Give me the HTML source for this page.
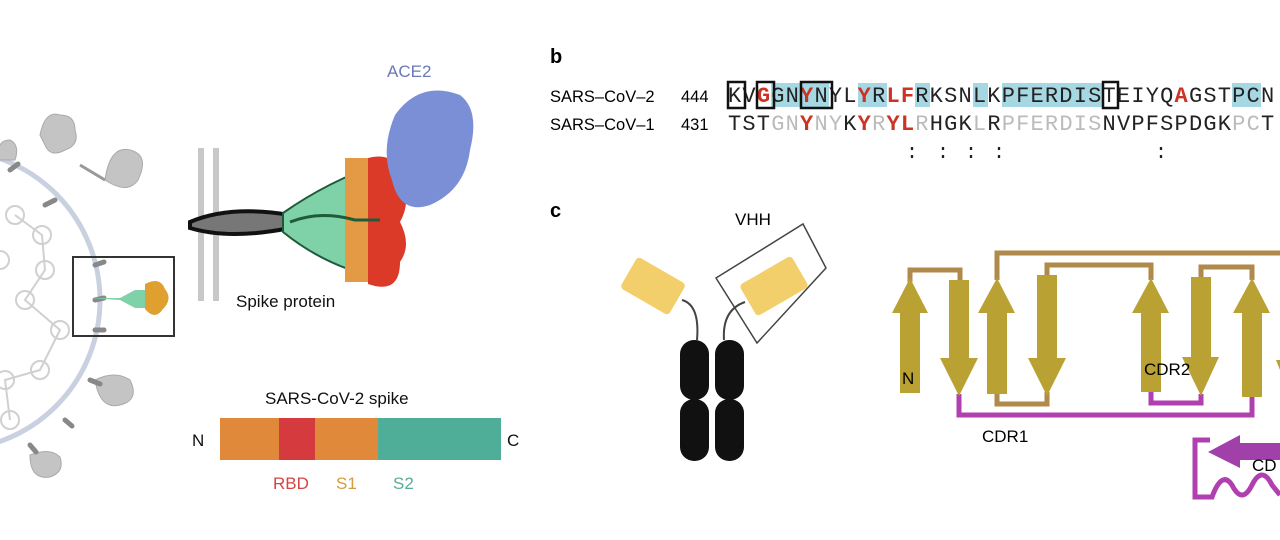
<!DOCTYPE html>
<html><head><meta charset="utf-8"><style>
html,body{margin:0;padding:0;background:#fff;}
svg{display:block;}
.s{font-family:"Liberation Sans",sans-serif;}
</style></head><body>
<svg width="1280" height="540" viewBox="0 0 1280 540" xmlns="http://www.w3.org/2000/svg">
<!-- virus -->
<circle cx="-50" cy="300" r="150" fill="none" stroke="#c9d0e0" stroke-width="5"/>
<g fill="none" stroke="#d0d0d0" stroke-width="2">
<circle cx="15" cy="215" r="9"/><circle cx="42" cy="235" r="9"/><circle cx="45" cy="270" r="9"/><circle cx="25" cy="300" r="9"/><circle cx="60" cy="330" r="9"/><circle cx="40" cy="370" r="9"/><circle cx="5" cy="380" r="9"/><circle cx="10" cy="420" r="9"/><circle cx="0" cy="260" r="9"/>
<path d="M15 215 L42 235 L45 270 L25 300 L60 330 L40 370 L5 380 L10 420"/>
</g>
<g fill="#c4c4c4" stroke="#aaa" stroke-width="1">
<path d="M40 135 q5 -25 20 -20 q15 0 15 15 q5 15 -10 20 q-15 8 -20 -5z"/>
<path d="M105 180 q5 -35 25 -30 q20 5 8 30 q-10 15 -33 0z"/>
<path d="M80 165 l25 15" stroke="#999" stroke-width="3"/>
<path d="M95 380 q5 30 25 25 q20 -5 10 -25 q-15 -10 -35 0z"/>
<path d="M30 455 q0 25 20 22 q15 -5 10 -20 q-10 -10 -30 -2z"/>
<path d="M0 160 q-5 -20 10 -20 q10 5 5 20z"/>
</g>
<g stroke="#888" stroke-width="5" stroke-linecap="round">
<line x1="10" y1="170" x2="18" y2="164"/><line x1="45" y1="205" x2="55" y2="200"/><line x1="95" y1="265" x2="104" y2="262"/><line x1="95" y1="300" x2="104" y2="298"/><line x1="95" y1="330" x2="104" y2="330"/><line x1="90" y1="380" x2="100" y2="384"/><line x1="65" y1="420" x2="72" y2="426"/><line x1="30" y1="445" x2="36" y2="452"/>
</g>
<rect x="73" y="257" width="101" height="79" fill="none" stroke="#333" stroke-width="2"/>
<path d="M90 298 L120 298 L135 290 L148 290 L148 308 L135 308 L120 300Z" fill="#7fd1a8"/>
<path d="M145 284 q15 -8 20 5 q8 10 -2 20 q-8 12 -18 0z" fill="#e0a030"/>
<!-- membrane -->
<rect x="198" y="148" width="6" height="153" fill="#c8c8c8"/><rect x="213" y="148" width="6" height="153" fill="#c8c8c8"/>
<!-- spike -->
<path d="M190 222 Q230 205 290 215 L290 228 Q230 240 190 228Z" fill="#777" stroke="#111" stroke-width="4"/>
<path d="M283 213 Q330 180 385 162 L390 280 Q330 270 283 232Z" fill="#7fd1a8" stroke="#1f5a3a" stroke-width="2"/>
<rect x="345" y="158" width="25" height="124" fill="#e49a45"/>
<path d="M368 158 Q400 150 400 185 Q412 200 400 222 Q412 245 400 262 Q400 295 368 284Z" fill="#dc3a28"/>
<path d="M290 222 Q320 210 355 220 L380 220" fill="none" stroke="#1f5a3a" stroke-width="3"/>
<!-- ACE2 -->
<path d="M395 115 Q420 80 460 95 Q480 110 470 150 Q465 190 430 205 Q400 215 392 180 Q380 150 395 115Z" fill="#7b8fd6"/>
<text x="387" y="77" class="s" font-size="17" fill="#6a7ab5">ACE2</text>
<text x="236" y="307" class="s" font-size="17" fill="#111">Spike protein</text>
<!-- spike bar -->
<text x="265" y="404" class="s" font-size="17" fill="#111">SARS-CoV-2 spike</text>
<text x="192" y="446" class="s" font-size="17" fill="#111">N</text>
<text x="507" y="446" class="s" font-size="17" fill="#111">C</text>
<rect x="220" y="418" width="60" height="42" fill="#e0893a"/>
<rect x="279" y="418" width="37" height="42" fill="#d53a3f"/>
<rect x="315" y="418" width="63" height="42" fill="#e0893a"/>
<rect x="378" y="418" width="123" height="42" fill="#4fae98"/>
<text x="273" y="489" class="s" font-size="17" fill="#d44444">RBD</text>
<text x="336" y="489" class="s" font-size="17" fill="#d89a40">S1</text>
<text x="393" y="489" class="s" font-size="17" fill="#5aaa99">S2</text>
<!-- b -->
<text x="550" y="63" class="s" font-size="20" font-weight="bold">b</text>
<text x="550" y="217" class="s" font-size="20" font-weight="bold">c</text>
<text x="550" y="102" class="s" font-size="16.5">SARS–CoV–2</text><text x="681" y="102" class="s" font-size="16.5">444</text>
<text x="550" y="130" class="s" font-size="16.5">SARS–CoV–1</text><text x="681" y="130" class="s" font-size="16.5">431</text>
<g fill="#a6d8e4">
<rect x="771" y="83" width="58" height="24"/><rect x="858" y="83" width="29" height="24"/><rect x="915" y="83" width="15" height="24"/><rect x="973" y="83" width="15" height="24"/><rect x="1002" y="83" width="101" height="24"/><rect x="1232" y="83" width="29" height="24"/>
</g>
<g font-family="Liberation Mono,monospace" font-size="22" fill="#222" letter-spacing="1.2">
<text x="728" y="102">KV<tspan fill="#cc3322" font-weight="bold">G</tspan>GN<tspan fill="#cc3322" font-weight="bold">Y</tspan>NYL<tspan fill="#cc3322" font-weight="bold">Y</tspan>R<tspan fill="#cc3322" font-weight="bold">LF</tspan>RKSNLKPFERDISTEIYQ<tspan fill="#cc3322" font-weight="bold">A</tspan>GSTPCN</text>
<text x="728" y="130">TST<tspan fill="#bbb">GN</tspan><tspan fill="#cc3322" font-weight="bold">Y</tspan><tspan fill="#bbb">NY</tspan>K<tspan fill="#cc3322" font-weight="bold">Y</tspan><tspan fill="#bbb">R</tspan><tspan fill="#cc3322" font-weight="bold">YL</tspan><tspan fill="#bbb">R</tspan>HGK<tspan fill="#bbb">L</tspan>R<tspan fill="#bbb">PFERDIS</tspan>NVPFSPDGK<tspan fill="#bbb">PC</tspan>T</text>
</g>
<g font-family="Liberation Mono,monospace" font-size="20" fill="#222">
<text y="158"><tspan x="906">:</tspan><tspan x="937">:</tspan><tspan x="965">:</tspan><tspan x="993">:</tspan><tspan x="1155">:</tspan></text>
</g>
<g fill="none" stroke="#111" stroke-width="2.5">
<rect x="728" y="82" width="17" height="26"/><rect x="757" y="82" width="17" height="26"/><rect x="801" y="82" width="31" height="26"/><rect x="1103" y="82" width="15" height="26"/>
</g>
<!-- antibody -->
<g fill="#111">
<rect x="680" y="340" width="29" height="60" rx="14"/><rect x="680" y="399" width="29" height="62" rx="14"/>
<rect x="715" y="340" width="29" height="60" rx="14"/><rect x="715" y="399" width="29" height="62" rx="14"/>
</g>
<path d="M697 340 Q700 305 682 300" fill="none" stroke="#444" stroke-width="2"/>
<path d="M724 340 Q722 310 745 302" fill="none" stroke="#444" stroke-width="2"/>
<rect x="625" y="268" width="56" height="36" rx="4" fill="#f2cf6a" transform="rotate(30 653 286)"/>
<rect x="744" y="268" width="60" height="36" rx="4" fill="#f2cf6a" transform="rotate(-30 774 286)"/>
<polygon points="716,278 803,224 826,268 757,343" fill="none" stroke="#444" stroke-width="1.5"/>
<text x="735" y="225" class="s" font-size="17">VHH</text>
<!-- topology -->
<g fill="none" stroke="#b08a4a" stroke-width="5">
<path d="M910 282 V270 H960 V282"/>
<path d="M997 280 V253 H1280"/>
<path d="M1047 277 V265 H1151 V280"/>
<path d="M1201 279 V267 H1252 V280"/>
<path d="M997 392 V404 H1047 V392"/>
</g>
<g fill="none" stroke="#b03fb0" stroke-width="5">
<path d="M959 394 V415 H1252 V396"/>
<path d="M1151 392 V403 H1201 V394"/>
<path d="M1210 440 H1195 V497 H1212 Q1222 470 1232 485 Q1242 505 1252 485 Q1262 465 1272 485 L1280 495"/>
</g>
<path d="M1280 443 H1240 V435 L1208 452 L1240 468 V460 H1280Z" fill="#a040a8"/>
<g fill="#b9a233">
<path d="M900 393 V313 H892 L910 278 L928 313 H920 V393Z"/>
<path d="M949 280 H969 V358 H978 L959 396 L940 358 H949Z"/>
<path d="M987 394 V313 H978 L997 278 L1015 313 H1007 V394Z"/>
<path d="M1037 275 H1057 V358 H1066 L1047 396 L1028 358 H1037Z"/>
<path d="M1141 392 V313 H1132 L1151 278 L1169 313 H1161 V392Z"/>
<path d="M1191 277 H1211 V357 H1219 L1201 396 L1182 357 H1191Z"/>
<path d="M1242 397 V313 H1233 L1252 278 L1270 313 H1262 V397Z"/>
<path d="M1280 360 L1276 360 L1280 370Z"/>
</g>
<text x="902" y="384" class="s" font-size="17">N</text>
<text x="1144" y="375" class="s" font-size="17">CDR2</text>
<text x="982" y="442" class="s" font-size="17">CDR1</text>
<text x="1252" y="471" class="s" font-size="17">CD</text>
</svg>
</body></html>
